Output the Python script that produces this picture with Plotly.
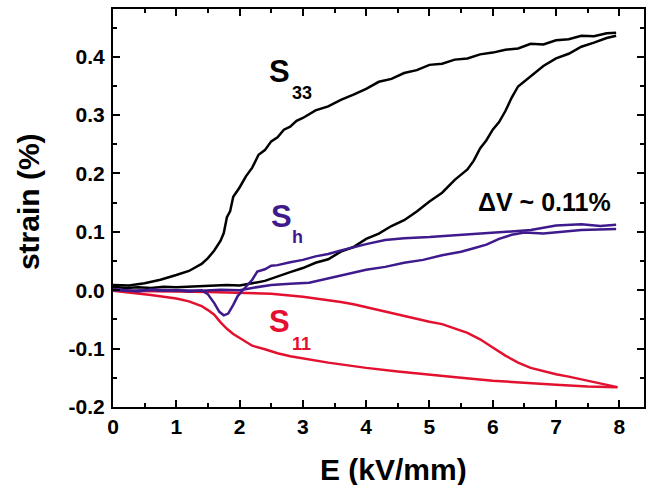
import plotly.graph_objects as go

# ---------------- data ----------------
# S33 (black)
s33_up_E = [0, 0.25, 0.5, 0.75, 1.0, 1.2, 1.4, 1.5, 1.6, 1.7, 1.75, 1.8, 1.85, 1.9, 2.0, 2.1, 2.2, 2.3,
            2.4, 2.5, 2.6, 2.7, 2.8, 2.9, 3.0, 3.2, 3.4, 3.6, 3.8, 4.0, 4.2, 4.4, 4.6, 4.8, 5.0, 5.2,
            5.4, 5.6, 5.8, 6.0, 6.2, 6.4, 6.6, 6.8, 7.0, 7.2, 7.4, 7.6, 7.8, 7.95]
s33_up_S = [0.009, 0.008, 0.012, 0.018, 0.026, 0.033, 0.045, 0.055, 0.068, 0.085, 0.098, 0.125, 0.135,
            0.160, 0.176, 0.195, 0.210, 0.232, 0.240, 0.255, 0.262, 0.275, 0.280, 0.290, 0.295, 0.308,
            0.315, 0.326, 0.335, 0.345, 0.357, 0.362, 0.372, 0.377, 0.386, 0.388, 0.395, 0.397, 0.404,
            0.407, 0.412, 0.414, 0.422, 0.421, 0.428, 0.430, 0.436, 0.435, 0.440, 0.441]
s33_dn_E = [7.95, 7.8, 7.6, 7.4, 7.2, 7.0, 6.8, 6.6, 6.4, 6.3, 6.2, 6.1, 6.0, 5.9, 5.8, 5.7, 5.6, 5.5,
            5.4, 5.2, 5.0, 4.8, 4.6, 4.4, 4.2, 4.0, 3.8, 3.6, 3.4, 3.2, 3.0, 2.8, 2.6, 2.4, 2.2, 2.0,
            1.8, 1.6, 1.4, 1.2, 1.0, 0.8, 0.6, 0.4, 0.2, 0]
s33_dn_S = [0.436, 0.432, 0.424, 0.417, 0.405, 0.397, 0.384, 0.366, 0.349, 0.330, 0.307, 0.288, 0.275,
            0.257, 0.243, 0.222, 0.207, 0.198, 0.189, 0.167, 0.152, 0.135, 0.120, 0.110, 0.097, 0.088,
            0.074, 0.066, 0.053, 0.047, 0.038, 0.031, 0.024, 0.016, 0.012, 0.008, 0.009, 0.008, 0.006,
            0.006, 0.005, 0.006, 0.004, 0.005, 0.004, 0.006]

# S11 (red)
s11_a_E = [0, 0.2, 0.4, 0.6, 0.8, 1.0, 1.2, 1.4, 1.5, 1.6, 1.7, 1.8, 1.9, 2.0, 2.2, 2.4, 2.6, 2.8,
           3.0, 3.2, 3.4, 3.6, 3.8, 4.0, 4.5, 5.0, 5.5, 6.0, 6.5, 7.0, 7.5, 7.97]
s11_a_S = [-0.001, -0.003, -0.005, -0.008, -0.011, -0.014, -0.019, -0.027, -0.034, -0.042, -0.055,
           -0.066, -0.075, -0.082, -0.095, -0.101, -0.108, -0.113, -0.117, -0.121, -0.124, -0.127,
           -0.130, -0.133, -0.139, -0.145, -0.150, -0.155, -0.159, -0.162, -0.165, -0.166]
s11_b_E = [7.97, 7.8, 7.6, 7.4, 7.2, 7.0, 6.8, 6.6, 6.4, 6.2, 6.0, 5.8, 5.6, 5.4, 5.2, 5.0, 4.8, 4.6,
           4.4, 4.2, 4.0, 3.8, 3.6, 3.4, 3.2, 3.0, 2.5, 2.0, 1.5, 1.0, 0.5, 0]
s11_b_S = [-0.166, -0.162, -0.157, -0.152, -0.148, -0.144, -0.139, -0.133, -0.124, -0.112, -0.098,
           -0.084, -0.073, -0.066, -0.058, -0.054, -0.049, -0.044, -0.038, -0.033, -0.028, -0.024,
           -0.020, -0.017, -0.014, -0.011, -0.006, -0.004, -0.003, -0.002, -0.001, -0.001]

# Sh (purple)
sh_a_E = [0, 0.2, 0.4, 0.6, 0.8, 1.0, 1.2, 1.4, 1.5, 1.6, 1.68, 1.75, 1.82, 1.9, 1.97, 2.05, 2.12,
          2.2, 2.28, 2.4, 2.5, 2.6, 2.8, 3.0, 3.2, 3.4, 3.6, 3.8, 4.0, 4.3, 4.6, 5.0, 5.4, 5.8, 6.2,
          6.6, 7.0, 7.4, 7.7, 7.95]
sh_a_S = [0.002, 0.0, -0.002, 0.001, -0.001, 0.0, -0.002, 0.0, -0.007, -0.022, -0.037, -0.043, -0.040,
          -0.025, -0.010, 0.0, 0.008, 0.018, 0.032, 0.036, 0.042, 0.043, 0.048, 0.052, 0.058, 0.062,
          0.068, 0.074, 0.079, 0.086, 0.089, 0.091, 0.094, 0.097, 0.101, 0.103, 0.111, 0.113, 0.110,
          0.112]
sh_b_E = [7.95, 7.7, 7.4, 7.1, 6.8, 6.5, 6.3, 6.1, 5.9, 5.7, 5.5, 5.2, 4.9, 4.6, 4.3, 4.0, 3.7, 3.4,
          3.1, 2.8, 2.5, 2.2, 2.0, 1.7, 1.4, 1.0, 0.6, 0.3, 0]
sh_b_S = [0.105, 0.104, 0.103, 0.100, 0.097, 0.099, 0.095, 0.088, 0.078, 0.072, 0.066, 0.060, 0.052,
          0.047, 0.040, 0.035, 0.028, 0.020, 0.013, 0.011, 0.009, 0.004, 0.0, 0.001, -0.001, 0.0,
          0.001, -0.001, 0.0]

x_ticks = [0, 1, 2, 3, 4, 5, 6, 7, 8]
y_ticks = [-0.2, -0.1, 0.0, 0.1, 0.2, 0.3, 0.4]
y_tick_text = ["-0.2", "-0.1", "0.0", "0.1", "0.2", "0.3", "0.4"]

# ---------------- style ----------------
BLACK = "#000000"
RED = "#e3112f"
PURPLE = "#3f1a8c"
FONT = "Arial, 'Liberation Sans', sans-serif"
LW = 2.5

fig = go.Figure()
for xs, ys, c in [(s33_up_E, s33_up_S, BLACK), (s33_dn_E, s33_dn_S, BLACK),
                  (s11_a_E, s11_a_S, RED), (s11_b_E, s11_b_S, RED),
                  (sh_a_E, sh_a_S, PURPLE), (sh_b_E, sh_b_S, PURPLE)]:
    fig.add_trace(go.Scatter(x=xs, y=ys, mode="lines", line=dict(color=c, width=LW),
                             showlegend=False, hoverinfo="skip"))

axis_common = dict(showline=True, linecolor="black", linewidth=2, mirror="allticks",
                   ticks="inside", ticklen=7, tickwidth=1.5, tickcolor="black",
                   showgrid=False, zeroline=False,
                   tickfont=dict(family=FONT, size=21, color="black", weight="bold"))

fig.update_xaxes(range=[0, 8.39], tickvals=x_ticks, ticklabelstandoff=0,
                 minor=dict(ticks="inside", ticklen=4, dtick=0.5, tickwidth=1.5, tickcolor="black"),
                 **axis_common)
fig.update_yaxes(range=[-0.2, 0.4817], tickvals=y_ticks, ticktext=y_tick_text, ticklabelstandoff=2,
                 minor=dict(ticks="inside", ticklen=4, dtick=0.05, tickwidth=1.5, tickcolor="black"),
                 **axis_common)

def ann(x, y, text, size, color, xref="x", yref="y", xanchor="left", textangle=0):
    fig.add_annotation(x=x, y=y, xref=xref, yref=yref, text=text, showarrow=False,
                       xanchor=xanchor, yanchor="middle", textangle=textangle,
                       font=dict(family=FONT, size=size, color=color, weight="bold"))

ann(2.43, 0.3746, "S", 31, BLACK)
ann(2.79, 0.337, "33", 18, BLACK)
ann(2.46, 0.126, "S", 31, PURPLE)
ann(2.80, 0.0917, "h", 18, PURPLE)
ann(2.43, -0.054, "S", 31, RED)
ann(2.80, -0.0917, "11", 18, RED)
ann(5.74, 0.151, "ΔV ~ 0.11%", 25, BLACK)

ann(0.528, -0.156, "E (kV/mm)", 30, BLACK, xref="paper", yref="paper", xanchor="center")
ann(-0.16, 0.515, "strain (%)", 30, BLACK, xref="paper", yref="paper", xanchor="center", textangle=-90)

fig.update_layout(width=647, height=485, margin=dict(l=113, r=1, t=9, b=78),
                  plot_bgcolor="white", paper_bgcolor="white")

fig.write_html("out.html", config={"displayModeBar": False},
               post_script="document.body.style.margin='0px';document.body.style.padding='0px';")
